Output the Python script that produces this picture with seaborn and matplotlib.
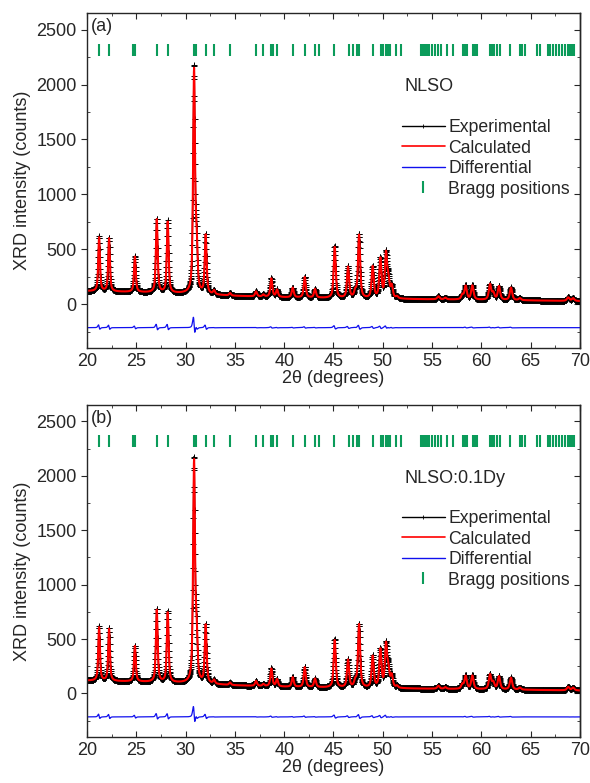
import numpy as np
import pandas as pd
import matplotlib.pyplot as plt
import seaborn as sns
from matplotlib.lines import Line2D
from matplotlib.ticker import MultipleLocator

# Peak list: 2theta positions and net heights above background
peak_pos = [21.22, 22.23, 24.85, 27.07, 28.18, 30.85, 31.10, 32.03, 32.88, 34.50,
            37.14, 37.88, 38.69, 39.27, 40.86, 42.08, 43.12, 45.12, 46.47, 47.20,
            47.59, 48.97, 49.75, 50.32, 50.56, 50.90, 51.44, 55.63, 56.34, 58.06,
            58.40, 59.08, 60.87, 61.20, 61.78, 63.00, 63.90, 68.80, 69.30]
height_a = [500, 490, 325, 675, 655, 2040, 420, 540, 35, 22,
            45, 18, 170, 65, 88, 190, 78, 470, 285, 55,
            580, 290, 360, 400, 150, 110, 18, 28, 15, 40,
            125, 130, 140, 60, 125, 115, 18, 32, 25]
height_b = [500, 485, 330, 670, 650, 2040, 420, 540, 35, 22,
            45, 18, 165, 65, 88, 185, 78, 440, 255, 55,
            585, 290, 350, 390, 150, 110, 18, 28, 15, 40,
            120, 125, 135, 60, 120, 110, 18, 32, 25]
# misfit between observed and calculated peak tops (counts)
misfit_a = [8, 6, 3, 8, 8, 30, 6, 6, 0, 0,
            0, 0, 3, 0, 0, 3, 0, 4, 3, 0,
            5, 3, 3, 4, 3, 0, 0, 0, 0, 0,
            2, 2, 2, 0, 2, 2, 0, 0, 0]
misfit_b = misfit_a

# background anchors
bg_x = [20, 25, 30, 35, 40, 45, 50, 55, 60, 65, 70]
bg_y = [118, 108, 95, 74, 61, 53, 47, 43, 38, 33, 27]

# Bragg reflection positions
bragg = [21.22, 22.23, 24.70, 24.83, 27.07, 28.18, 30.85, 31.05, 32.03, 32.88,
         34.50, 37.14, 37.88, 38.69, 38.90, 39.30, 40.86, 42.14, 43.16, 43.56,
         45.05, 46.57, 46.95, 47.35, 47.60, 48.97, 49.80, 50.00, 50.30, 50.50,
         50.75, 51.30, 51.80, 53.90, 54.10, 54.30, 54.50, 54.70, 55.00, 55.30,
         55.60, 55.90, 56.48, 57.15, 58.10, 58.30, 58.50, 59.10, 59.40, 59.60,
         60.90, 61.10, 61.30, 61.60, 61.90, 62.90, 63.90, 64.10, 64.40, 65.60,
         65.90, 66.80, 67.00, 67.30, 67.60, 67.90, 68.20, 68.50, 68.80, 69.00,
         69.20, 69.40]

bragg_y = 2320
diff_offset = -215
two_theta = np.arange(20, 70.001, 0.02)


def profile(pos, heights, shift=0.0):
    bg = np.interp(two_theta, bg_x, bg_y)
    y = bg.copy()
    for p, h in zip(pos, heights):
        w = 0.2 + 0.002 * (p - 20)
        d = (two_theta - p - shift) / (w / 2)
        lor = 1 / (1 + d ** 2)
        gau = np.exp(-np.log(2) * d ** 2)
        y += h * (0.65 * lor + 0.35 * gau)
    return y


sns.set_style("ticks")
plt.rcParams['font.family'] = ['Liberation Sans', 'DejaVu Sans']
plt.rcParams['font.size'] = 13

fig = plt.figure(figsize=(5.9, 7.83), dpi=100)
ax_a = fig.add_axes([0.1475, 0.5556, 0.8355, 0.4274])
ax_b = fig.add_axes([0.1475, 0.0587, 0.8355, 0.4241])

panels = [(ax_a, height_a, misfit_a, '(a)', 'NLSO'),
          (ax_b, height_b, misfit_b, '(b)', 'NLSO:0.1Dy')]

green = '#0b9b5a'
for ax, heights, misfit, tag, name in panels:
    obs = profile(peak_pos, heights)
    calc_h = [h - m for h, m in zip(heights, misfit)]
    calc = profile(peak_pos, calc_h, shift=0.006)
    df = pd.DataFrame({'tt': two_theta, 'obs': obs, 'calc': calc,
                       'diff': obs - calc + diff_offset})

    sns.lineplot(data=df, x='tt', y='obs', ax=ax, color='black', lw=1.0,
                 marker='+', ms=4.2, mew=0.7, mec='black',
                 estimator=None, sort=False)
    sns.lineplot(data=df, x='tt', y='calc', ax=ax, color='#ff0000', lw=1.5,
                 estimator=None, sort=False)
    sns.lineplot(data=df, x='tt', y='diff', ax=ax, color='#1010ee', lw=0.9,
                 estimator=None, sort=False)
    ax.plot(bragg, [bragg_y] * len(bragg), ls='none', marker='|', ms=8,
            mew=1.5, color=green)

    ax.set_xlim(20, 70)
    ax.set_ylim(-400, 2650)
    ax.xaxis.set_major_locator(MultipleLocator(5))
    ax.xaxis.set_minor_locator(MultipleLocator(2.5))
    ax.yaxis.set_major_locator(MultipleLocator(500))
    ax.yaxis.set_minor_locator(MultipleLocator(250))
    ax.tick_params(axis='x', which='both', direction='in', top=True,
                   labelsize=13)
    ax.tick_params(axis='x', which='major', length=4)
    ax.tick_params(axis='x', which='minor', length=2.5)
    ax.tick_params(axis='y', which='major', direction='out', length=4,
                   labelsize=13, right=False)
    ax.tick_params(axis='y', which='minor', direction='in', length=2.5,
                   right=False)
    sec = ax.secondary_yaxis('right')
    sec.yaxis.set_major_locator(MultipleLocator(500))
    sec.yaxis.set_minor_locator(MultipleLocator(250))
    sec.tick_params(axis='y', which='both', direction='in', labelright=False)
    sec.tick_params(axis='y', which='major', length=4)
    sec.tick_params(axis='y', which='minor', length=2.5)
    for s in ax.spines.values():
        s.set_linewidth(1.0)
    sec.spines['right'].set_linewidth(1.0)

    ax.set_xlabel('2θ (degrees)', fontsize=13, labelpad=0)
    ax.set_ylabel('XRD intensity (counts)', fontsize=13, labelpad=4)
    ax.text(0.008, 0.985, tag, transform=ax.transAxes, ha='left', va='top',
            fontsize=13)
    ax.text(0.645, 0.78, name, transform=ax.transAxes, ha='left',
            va='center', fontsize=13)

    handles = [Line2D([], [], color='black', lw=1, marker='+', ms=3, mew=0.6),
               Line2D([], [], color='#ff0000', lw=1.2),
               Line2D([], [], color='#1010ee', lw=1.0),
               Line2D([], [], ls='none', marker='|', ms=8, mew=1.5,
                      color=green)]
    ax.legend(handles, ['Experimental', 'Calculated', 'Differential',
                        'Bragg positions'],
              loc='upper left', bbox_to_anchor=(0.625, 0.705), frameon=False,
              borderaxespad=0, handlelength=2.4, handletextpad=0.2,
              labelspacing=0.2, fontsize=12.7, numpoints=1)

fig.savefig('out.png', dpi=100)
